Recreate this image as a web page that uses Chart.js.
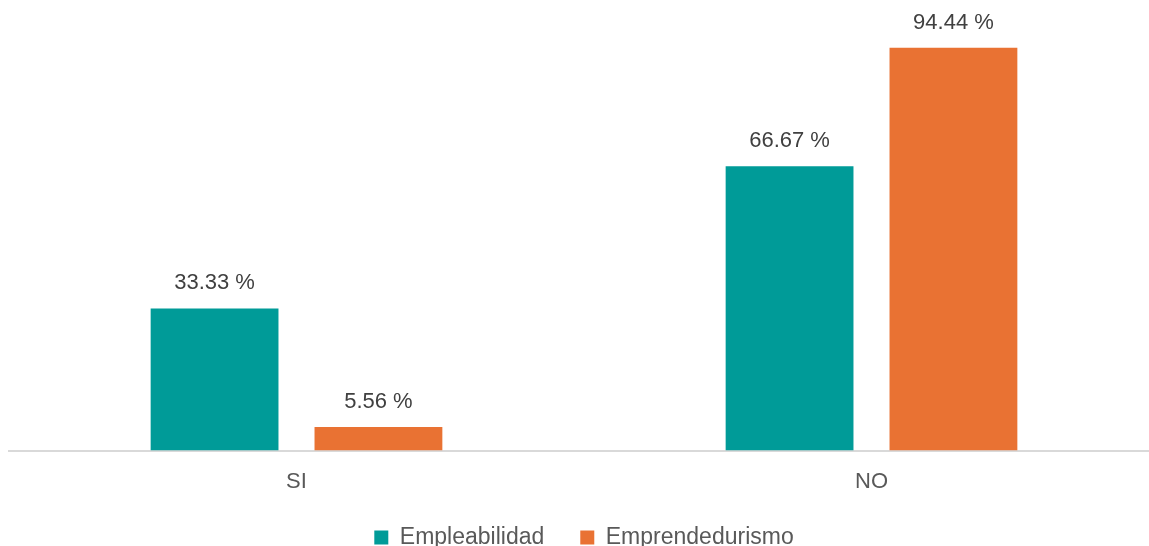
<!DOCTYPE html>
<html>
<head>
<meta charset="utf-8">
<script src="https://cdn.jsdelivr.net/npm/chart.js@4"></script>
<style>
  html, body { margin: 0; padding: 0; background: #fff; overflow: hidden; }
  #wrap { width: 1169px; height: 559px; }
</style>
</head>
<body>
<div id="wrap"><canvas id="chartRespuestas"></canvas></div>
<script>
const categories = ['SI', 'NO'];
const empleabilidad = [33.33, 66.67];
const emprendedurismo = [5.56, 94.44];

const FONT = '"Liberation Sans", Arial, sans-serif';

// etiquetas encima de cada barra
const valueLabels = {
  id: 'valueLabels',
  afterDatasetsDraw(chart) {
    const ctx = chart.ctx;
    ctx.save();
    ctx.font = '22px ' + FONT;
    ctx.fillStyle = '#404040';
    ctx.textAlign = 'center';
    ctx.textBaseline = 'alphabetic';
    chart.data.datasets.forEach((ds, i) => {
      chart.getDatasetMeta(i).data.forEach((bar, j) => {
        ctx.fillText(ds.data[j].toFixed(2) + ' %', bar.x, bar.y - 19);
      });
    });
    ctx.restore();
  }
};

new Chart(document.getElementById('chartRespuestas'), {
  type: 'bar',
  data: {
    labels: categories,
    datasets: [
      {
        label: 'Empleabilidad',
        data: empleabilidad,
        backgroundColor: '#009B98'
      },
      {
        label: 'Emprendedurismo',
        data: emprendedurismo,
        backgroundColor: '#E97233'
      }
    ]
  },
  options: {
    responsive: true,
    maintainAspectRatio: false,
    animation: false,
    categoryPercentage: 0.57,
    barPercentage: 0.78,
    layout: {
      padding: { top: 24, left: 9, right: 10, bottom: 0 }
    },
    plugins: {
      legend: {
        position: 'bottom',
        labels: {
          boxWidth: 14,
          boxHeight: 14,
          padding: 36,
          color: '#595959',
          font: { size: 23, family: FONT }
        }
      },
      tooltip: { enabled: false }
    },
    scales: {
      x: {
        grid: { display: false },
        border: { display: true, color: '#d9d9d9', width: 2 },
        ticks: {
          color: '#595959',
          padding: 10,
          font: { size: 22, family: FONT }
        },
        afterFit(scale) {
          scale.height -= 15;
        }
      },
      y: {
        display: false,
        min: 0,
        max: 100
      }
    }
  },
  plugins: [valueLabels]
});
</script>
</body>
</html>
